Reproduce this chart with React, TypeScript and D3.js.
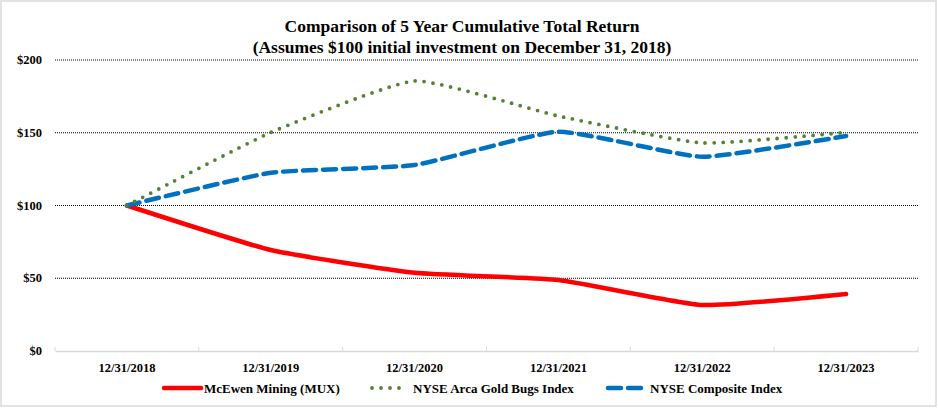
import { useEffect, useRef } from 'react';
import * as d3 from 'd3';

const years = ['12/31/2018', '12/31/2019', '12/31/2020', '12/31/2021', '12/31/2022', '12/31/2023'];
const mcewen = [100, 69.4, 53.8, 48.8, 31.6, 39.2];
const goldBugs = [100, 150.2, 185.6, 161.5, 143, 150.3];
const nyseComposite = [100, 122.5, 127.8, 150.7, 133.5, 147.8];
const yTicks = [0, 50, 100, 150, 200];

const seriesNames = ['McEwen Mining (MUX)', 'NYSE Arca Gold Bugs Index', 'NYSE Composite Index'];

export default function App() {
  const svgRef = useRef<SVGSVGElement>(null);

  useEffect(() => {
    if (!svgRef.current) return;
    const svg = d3.select(svgRef.current);
    svg.selectAll('*').remove();

    const left = 55, right = 918, top = 60, bottom = 351;
    const font = "'Times New Roman', 'Liberation Serif', 'DejaVu Serif', serif";

    svg.append('rect')
      .attr('x', 1).attr('y', 1).attr('width', 935).attr('height', 405)
      .attr('fill', '#fff').attr('stroke', '#d9d9d9').attr('stroke-width', 1.5);

    const x = d3.scaleBand().domain(years).range([left, right]);
    const y = d3.scaleLinear().domain([0, 200]).range([bottom, top]);

    // gridlines
    svg.append('g').selectAll('line')
      .data(yTicks.filter((d) => d > 0))
      .join('line')
      .attr('x1', left).attr('x2', right)
      .attr('y1', (d) => y(d)).attr('y2', (d) => y(d))
      .attr('stroke', '#000').attr('stroke-width', 1).attr('stroke-dasharray', '1 1');

    // x axis
    const xAxis = svg.append('g')
      .attr('transform', `translate(0,${bottom})`)
      .call(d3.axisBottom(x).tickSize(0).tickFormat(() => ''));
    xAxis.select('.domain').attr('stroke', '#d9d9d9').attr('stroke-width', 1.5);
    xAxis.selectAll('.tick').remove();
    svg.append('g').selectAll('line')
      .data(years.concat(['end']))
      .join('line')
      .attr('x1', (_, i) => left + i * x.step())
      .attr('x2', (_, i) => left + i * x.step())
      .attr('y1', bottom).attr('y2', bottom - 4)
      .attr('stroke', '#d9d9d9').attr('stroke-width', 1);

    svg.append('g').selectAll('text')
      .data(years)
      .join('text')
      .attr('x', (d) => (x(d) as number) + x.bandwidth() / 2)
      .attr('y', 372)
      .attr('text-anchor', 'middle')
      .attr('font-family', font).attr('font-weight', 'bold').attr('font-size', 12.5)
      .text((d) => d);

    // y labels
    svg.append('g').selectAll('text')
      .data(yTicks)
      .join('text')
      .attr('x', 42)
      .attr('y', (d) => y(d) + 4)
      .attr('text-anchor', 'end')
      .attr('font-family', font).attr('font-weight', 'bold').attr('font-size', 12.5)
      .text((d) => `$${d}`);

    // title
    const title = svg.append('text')
      .attr('text-anchor', 'middle')
      .attr('font-family', font).attr('font-weight', 'bold').attr('font-size', 17.5);
    title.append('tspan').attr('x', 462).attr('y', 32).text('Comparison of 5 Year Cumulative Total Return');
    title.append('tspan').attr('x', 462).attr('y', 52.5).text('(Assumes $100 initial investment on December 31, 2018)');

    const line = d3.line<number>()
      .x((_, i) => (x(years[i]) as number) + x.bandwidth() / 2)
      .y((d) => y(d))
      .curve(d3.curveCardinal.tension(0.55));

    const styles = [
      { color: '#ff0000', width: 4.5, dash: null, cap: 'round' },
      { color: '#548235', width: 3.8, dash: '0 9', cap: 'round' },
      { color: '#0070c0', width: 4.5, dash: '13 7', cap: 'round' },
    ];
    const data = [mcewen, goldBugs, nyseComposite];

    // draw in order: red, blue, green on top
    [0, 2, 1].forEach((k) => {
      svg.append('path')
        .datum(data[k])
        .attr('fill', 'none')
        .attr('stroke', styles[k].color)
        .attr('stroke-width', styles[k].width)
        .attr('stroke-linecap', styles[k].cap)
        .attr('stroke-linejoin', 'round')
        .attr('stroke-dasharray', styles[k].dash)
        .attr('d', line);
    });

    // legend
    const legendItems = [
      { x1: 164, x2: 201, tx: 204 },
      { x1: 372, x2: 405, tx: 413 },
      { x1: 608, x2: 646, tx: 650 },
    ];
    const legend = svg.append('g');
    legendItems.forEach((it, k) => {
      legend.append('line')
        .attr('x1', it.x1).attr('x2', it.x2).attr('y1', 388).attr('y2', 388)
        .attr('stroke', styles[k].color)
        .attr('stroke-width', styles[k].width)
        .attr('stroke-linecap', styles[k].cap)
        .attr('stroke-dasharray', styles[k].dash);
      legend.append('text')
        .attr('x', it.tx).attr('y', 392.5)
        .attr('font-family', font).attr('font-weight', 'bold').attr('font-size', 13)
        .text(seriesNames[k]);
    });
  }, []);

  return (
    <svg
      ref={svgRef}
      width={938}
      height={408}
      style={{ position: 'absolute', left: 0, top: 0, background: '#fff' }}
    />
  );
}
